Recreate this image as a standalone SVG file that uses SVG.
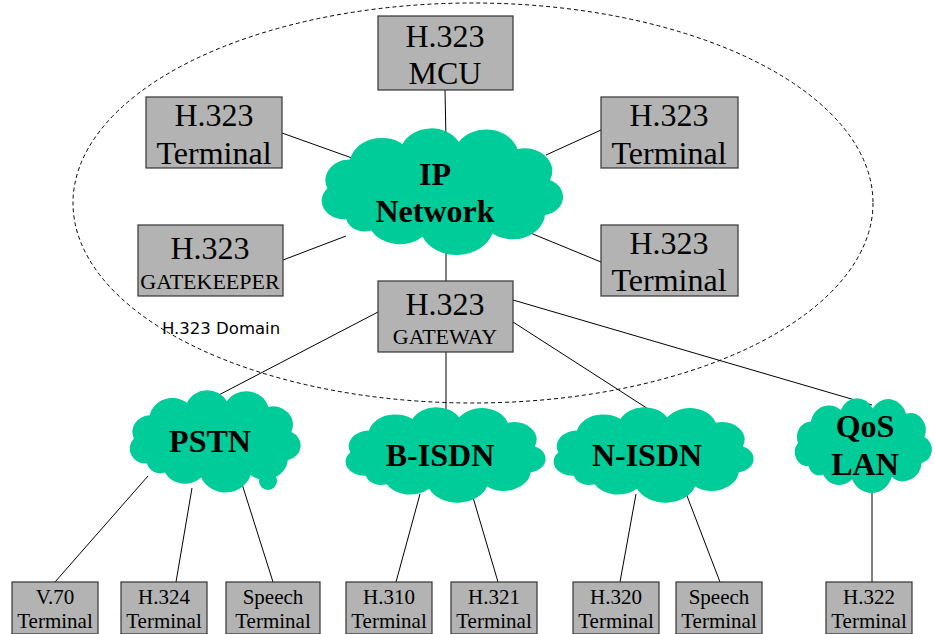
<svg xmlns="http://www.w3.org/2000/svg" xmlns:xlink="http://www.w3.org/1999/xlink" width="935" height="634" viewBox="0 0 935 634">
<style>
.box{fill:#b3b3b3;stroke:#333;stroke-width:1.2}
.cloud{fill:#00cc99;stroke:none}
.t{font-family:"Liberation Serif",serif;fill:#000;text-anchor:middle}
.big{font-size:32px}
.mid{font-size:22px}
.sm{font-size:21px}
.ct{font-family:"Liberation Serif",serif;font-weight:bold;font-size:32px;text-anchor:middle;fill:#000}
.ln{stroke:#000;stroke-width:1;fill:none}
</style>
<defs>
<path id="cl" d="M25,82 A18,18 0 0 1 10,52 A20,20 0 0 1 28,24 A26,26 0 0 1 70,9 A25,25 0 0 1 115,7 A26,26 0 0 1 162,14 A22,22 0 0 1 188,44 A18,18 0 0 1 184,78 A26,26 0 0 1 142,96 A30,30 0 0 1 86,99 A26,26 0 0 1 45,93 A15,15 0 0 1 25,82 Z"/>
</defs>
<ellipse cx="473" cy="203" rx="400" ry="200" fill="none" stroke="#000" stroke-width="1" stroke-dasharray="4,3"/>
<text x="162" y="334" font-family="DejaVu Sans,sans-serif" font-size="16.5" fill="#000">H.323 Domain</text>
<g id="connectors">
<line class="ln" x1="445" y1="90" x2="446" y2="140"/>
<line class="ln" x1="282" y1="133" x2="352" y2="158"/>
<line class="ln" x1="601" y1="130" x2="546" y2="155"/>
<line class="ln" x1="283" y1="260" x2="346" y2="236"/>
<line class="ln" x1="601" y1="262" x2="528" y2="232"/>
<line class="ln" x1="446" y1="248" x2="446" y2="281"/>
<line class="ln" x1="378" y1="312" x2="213" y2="398"/>
<line class="ln" x1="446" y1="352" x2="446" y2="412"/>
<line class="ln" x1="513" y1="322" x2="656" y2="414"/>
<line class="ln" x1="513" y1="300" x2="872" y2="405"/>
<line class="ln" x1="148" y1="476" x2="55" y2="582"/>
<line class="ln" x1="192" y1="488" x2="176" y2="582"/>
<line class="ln" x1="242" y1="484" x2="273" y2="582"/>
<line class="ln" x1="420" y1="494" x2="396" y2="582"/>
<line class="ln" x1="472" y1="494" x2="498" y2="582"/>
<line class="ln" x1="636" y1="494" x2="620" y2="582"/>
<line class="ln" x1="684" y1="488" x2="720" y2="582"/>
<line class="ln" x1="872" y1="488" x2="872" y2="582"/>
</g>
<g id="ip-network"><use xlink:href="#cl" class="cloud" transform="translate(315,134.7) scale(1.25,1.03)"/><text class="ct" x="435" y="185">IP</text><text class="ct" x="435" y="222">Network</text></g>
<g id="pstn"><use xlink:href="#cl" class="cloud" transform="translate(125,395.4) scale(0.885,0.83)"/><circle class="cloud" cx="268" cy="481" r="9"/><text class="ct" x="210" y="452">PSTN</text></g>
<g id="b-isdn"><use xlink:href="#cl" class="cloud" transform="translate(340,412) scale(1.036,0.776)"/><text class="ct" x="440" y="466">B-ISDN</text></g>
<g id="n-isdn"><use xlink:href="#cl" class="cloud" transform="translate(548,412) scale(1.036,0.776)"/><text class="ct" x="647" y="466">N-ISDN</text></g>
<g id="qos-lan"><use xlink:href="#cl" class="cloud" transform="translate(791,403) scale(0.71,0.77)"/><text class="ct" x="865" y="437">QoS</text><text class="ct" x="865" y="475">LAN</text></g>
<g id="mcu"><rect class="box" x="378" y="16" width="135" height="74"/><text class="t big" x="445" y="47">H.323</text><text class="t big" x="445" y="84">MCU</text></g>
<g id="term-tl"><rect class="box" x="146" y="97" width="136" height="71"/><text class="t big" x="214" y="126">H.323</text><text class="t big" x="214" y="164">Terminal</text></g>
<g id="term-tr"><rect class="box" x="601" y="97" width="137" height="71"/><text class="t big" x="669" y="126">H.323</text><text class="t big" x="669" y="164">Terminal</text></g>
<g id="gatekeeper"><rect class="box" x="138" y="225" width="145" height="71"/><text class="t big" x="210" y="259">H.323</text><text class="t mid" x="210" y="289">GATEKEEPER</text></g>
<g id="term-rm"><rect class="box" x="601" y="225" width="137" height="71"/><text class="t big" x="669" y="254">H.323</text><text class="t big" x="669" y="291">Terminal</text></g>
<g id="gateway"><rect class="box" x="378" y="281" width="135" height="71"/><text class="t big" x="445" y="315">H.323</text><text class="t mid" x="445" y="344">GATEWAY</text></g>
<g id="v70"><rect class="box" x="12" y="582" width="86" height="52"/><text class="t sm" x="55" y="604">V.70</text><text class="t sm" x="55" y="628">Terminal</text></g>
<g id="h324"><rect class="box" x="121" y="582" width="86" height="52"/><text class="t sm" x="164" y="604">H.324</text><text class="t sm" x="164" y="628">Terminal</text></g>
<g id="speech1"><rect class="box" x="226" y="582" width="94" height="52"/><text class="t sm" x="273" y="604">Speech</text><text class="t sm" x="273" y="628">Terminal</text></g>
<g id="h310"><rect class="box" x="346" y="582" width="86" height="52"/><text class="t sm" x="389" y="604">H.310</text><text class="t sm" x="389" y="628">Terminal</text></g>
<g id="h321"><rect class="box" x="451" y="582" width="86" height="52"/><text class="t sm" x="494" y="604">H.321</text><text class="t sm" x="494" y="628">Terminal</text></g>
<g id="h320"><rect class="box" x="573" y="582" width="86" height="52"/><text class="t sm" x="616" y="604">H.320</text><text class="t sm" x="616" y="628">Terminal</text></g>
<g id="speech2"><rect class="box" x="676" y="582" width="86" height="52"/><text class="t sm" x="719" y="604">Speech</text><text class="t sm" x="719" y="628">Terminal</text></g>
<g id="h322"><rect class="box" x="826" y="582" width="86" height="52"/><text class="t sm" x="869" y="604">H.322</text><text class="t sm" x="869" y="628">Terminal</text></g>
</svg>
